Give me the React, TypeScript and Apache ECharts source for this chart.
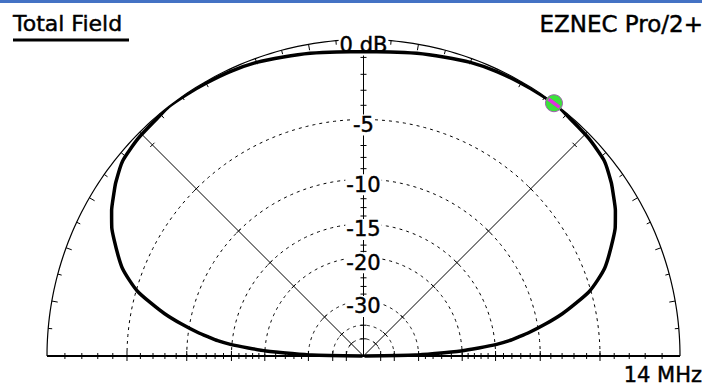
import React, { useEffect, useRef } from "react";
import * as echarts from "echarts";

// Elevation pattern (right half, degrees above the right horizon) and gain in dB
const ELEVATION_DEG = [0, 1, 2, 3, 4, 5, 6, 7, 8, 10, 12, 14, 16, 18, 20, 22, 25, 27, 30, 33, 35, 39, 44, 49, 52, 56, 60, 65, 70, 75, 80, 85, 90];
const GAIN_DB = [-99, -31, -25.5, -20.2, -17.3, -14.8, -13.2, -12.1, -11, -9.2, -7.6, -6.3, -5.1, -4.3, -3.6, -3.1, -2.4, -1.95, -1.45, -1.05, -0.78, -0.36, -0.18, -0.1, 0, -0.04, -0.08, -0.13, -0.22, -0.38, -0.5, -0.62, -0.68];

// dB rings and labels
const RING_DB = [-5, -10, -15, -20, -30, -40, -50];
const RING_LABEL_DB = [0, -5, -10, -15, -20, -30];
const RING_LABELS = ["0 dB", "-5", "-10", "-15", "-20", "-30"];
const AXIS_TICK_DB = [-1, -2, -3, -4, -5, -6, -7, -8, -9, -10, -11, -12, -13, -14, -15, -16, -17, -18, -19, -20, -22, -24, -26, -28, -30, -40, -50];
const OUTER_TICK_DEG = [5, 10, 15, 20, 25, 30, 35, 40, 45, 50, 55, 60, 65, 70, 75, 80, 85, 90, 95, 100, 105, 110, 115, 120, 125, 130, 135, 140, 145, 150, 155, 160, 165, 170, 175];
const DIAGONAL_DEG = [45, 135];

// cursor
const CURSOR_ELEV = 53;
const CURSOR_DB = 0;

const TITLE = "Total Field";
const PROGRAM = "EZNEC Pro/2+";
const FREQ = "14 MHz";

const FONT = "DejaVu Sans";

// ARRL log scale: radius factor 0.89 per 2 dB
const toR = (db: number) => Math.pow(0.89, -db / 2);

export default function App() {
  const ref = useRef<HTMLDivElement>(null);

  useEffect(() => {
    if (!ref.current) return;
    const chart = echarts.init(ref.current, undefined, { renderer: "svg" });

    const right = ELEVATION_DEG.map((e, i) => [toR(GAIN_DB[i]), e]);
    const left: number[][] = [];
    for (let i = ELEVATION_DEG.length - 2; i >= 0; i--) {
      left.push([toR(GAIN_DB[i]), 180 - ELEVATION_DEG[i]]);
    }
    const patternData = [...right, ...left];

    const black = "#000";
    const textStyle = (text: string, size: number, align: string) => ({
      text,
      fontSize: size,
      fontFamily: FONT,
      fill: black,
      stroke: black,
      lineWidth: 0.45,
      align,
      verticalAlign: "middle",
    });

    const pixR = (api: any) => {
      const c = api.coord([0, 0]);
      const e = api.coord([1, 0]);
      return { c, R: Math.hypot(e[0] - c[0], e[1] - c[1]) };
    };

    const option: any = {
      animation: false,
      backgroundColor: "#fff",
      polar: { center: [363.5, 356], radius: 316.5 },
      angleAxis: {
        type: "value",
        min: 0,
        max: 360,
        startAngle: 0,
        clockwise: false,
        axisLine: { show: false },
        axisTick: { show: false },
        axisLabel: { show: false },
        splitLine: { show: false },
      },
      radiusAxis: {
        type: "value",
        min: 0,
        max: 1,
        axisLine: { show: false },
        axisTick: { show: false },
        axisLabel: { show: false },
        splitLine: { show: false },
      },
      graphic: [
        { type: "rect", shape: { x: 0, y: 0, width: 702, height: 3 }, style: { fill: "#4472c4" } },
        { type: "text", x: 13, y: 23, style: textStyle(TITLE, 22, "left") },
        { type: "rect", shape: { x: 13, y: 38.5, width: 116, height: 3 }, style: { fill: black } },
        { type: "text", x: 703, y: 24, style: textStyle(PROGRAM, 23, "right") },
        { type: "text", x: 702, y: 374.5, style: textStyle(FREQ, 21, "right") },
      ],
      series: [
        // dashed rings
        {
          type: "custom",
          coordinateSystem: "polar",
          z: 1,
          silent: true,
          data: RING_DB.map((db) => [toR(db), 90]),
          renderItem: (_p: any, api: any) => {
            const r = api.value(0);
            const pts: number[][] = [];
            for (let a = 0; a <= 180; a += 1) pts.push(api.coord([r, a]));
            return {
              type: "polyline",
              shape: { points: pts },
              style: { stroke: black, lineWidth: 1, lineDash: [3, 4], fill: null },
            };
          },
        },
        // outer ring with ticks
        {
          type: "custom",
          coordinateSystem: "polar",
          z: 1,
          silent: true,
          data: [[1, 90]],
          renderItem: (_p: any, api: any) => {
            const { R } = pixR(api);
            const pts: number[][] = [];
            for (let a = 0; a <= 180; a += 1) pts.push(api.coord([1, a]));
            const children: any[] = [
              { type: "polyline", shape: { points: pts }, style: { stroke: black, lineWidth: 1.2, fill: null } },
            ];
            OUTER_TICK_DEG.forEach((a) => {
              const len = a % 10 === 0 ? 6 : 4;
              const p1 = api.coord([1, a]);
              const p2 = api.coord([1 - len / R, a]);
              children.push({
                type: "line",
                shape: { x1: p1[0], y1: p1[1], x2: p2[0], y2: p2[1] },
                style: { stroke: black, lineWidth: 1 },
              });
            });
            return { type: "group", children };
          },
        },
        // baseline, vertical axis, diagonals and their ticks
        {
          type: "custom",
          coordinateSystem: "polar",
          z: 1,
          silent: true,
          data: [[1, 90]],
          renderItem: (_p: any, api: any) => {
            const { c } = pixR(api);
            const children: any[] = [];
            const l = api.coord([1, 180]);
            const rr = api.coord([1, 0]);
            children.push({
              type: "line",
              shape: { x1: l[0], y1: l[1], x2: rr[0], y2: rr[1] },
              style: { stroke: black, lineWidth: 2 },
            });
            const top = api.coord([1, 90]);
            children.push({
              type: "line",
              shape: { x1: c[0], y1: c[1], x2: top[0], y2: top[1] },
              style: { stroke: black, lineWidth: 1 },
            });
            AXIS_TICK_DB.forEach((db) => {
              const major = RING_DB.indexOf(db) >= 0;
              const h = major ? 5 : 3;
              [0, 180].forEach((a) => {
                const p = api.coord([toR(db), a]);
                children.push({
                  type: "line",
                  shape: { x1: p[0], y1: p[1] - h, x2: p[0], y2: p[1] + h },
                  style: { stroke: black, lineWidth: 1 },
                });
              });
              const q = api.coord([toR(db), 90]);
              children.push({
                type: "line",
                shape: { x1: q[0] - 3, y1: q[1], x2: q[0] + 3, y2: q[1] },
                style: { stroke: black, lineWidth: 1 },
              });
            });
            DIAGONAL_DEG.forEach((a) => {
              const e = api.coord([1, a]);
              children.push({
                type: "line",
                shape: { x1: c[0], y1: c[1], x2: e[0], y2: e[1] },
                style: { stroke: black, lineWidth: 1 },
              });
              const ux = e[0] - c[0];
              const uy = e[1] - c[1];
              const n = Math.hypot(ux, uy);
              const tx = -uy / n;
              const ty = ux / n;
              [-1, ...RING_DB].forEach((db) => {
                const p = api.coord([toR(db), a]);
                children.push({
                  type: "line",
                  shape: { x1: p[0] - 3 * tx, y1: p[1] - 3 * ty, x2: p[0] + 3 * tx, y2: p[1] + 3 * ty },
                  style: { stroke: black, lineWidth: 1 },
                });
              });
            });
            return { type: "group", children };
          },
        },
        // ring labels
        {
          type: "custom",
          coordinateSystem: "polar",
          z: 2,
          silent: true,
          data: RING_LABEL_DB.map((db, i) => [toR(db), 90, i]),
          renderItem: (_p: any, api: any) => {
            const p = api.coord([api.value(0), 90]);
            return {
              type: "text",
              x: p[0],
              y: p[1] + 5.5,
              style: {
                ...textStyle(RING_LABELS[api.value(2)], 21, "center"),
                backgroundColor: "#fff",
                padding: [0, 1],
              },
            };
          },
        },
        // pattern
        {
          type: "line",
          coordinateSystem: "polar",
          z: 5,
          silent: true,
          symbol: "none",
          smooth: 0.2,
          data: patternData,
          lineStyle: { color: "#000", width: 3.5 },
        },
        // cursor
        {
          type: "custom",
          coordinateSystem: "polar",
          z: 6,
          silent: true,
          data: [[toR(CURSOR_DB), CURSOR_ELEV]],
          renderItem: (_p: any, api: any) => {
            const { c } = pixR(api);
            const p = api.coord([api.value(0), api.value(1)]);
            const ux = p[0] - c[0];
            const uy = p[1] - c[1];
            const n = Math.hypot(ux, uy);
            const tx = -uy / n;
            const ty = ux / n;
            return {
              type: "group",
              children: [
                {
                  type: "circle",
                  shape: { cx: p[0], cy: p[1], r: 8.5 },
                  style: { fill: "#3be23b", stroke: "#a060b0", lineWidth: 1 },
                },
                {
                  type: "line",
                  shape: { x1: p[0] - 7 * tx, y1: p[1] - 7 * ty, x2: p[0] + 7 * tx, y2: p[1] + 7 * ty },
                  style: { stroke: "#e030e0", lineWidth: 3.5 },
                },
              ],
            };
          },
        },
      ],
    };

    chart.setOption(option);
    return () => chart.dispose();
  }, []);

  return <div ref={ref} style={{ position: "fixed", left: 0, top: 0, width: 720, height: 385 }} />;
}
